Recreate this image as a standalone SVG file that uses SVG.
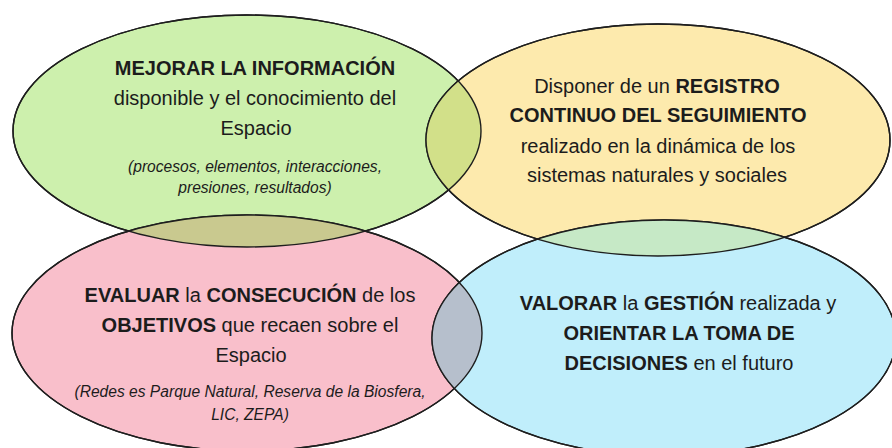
<svg xmlns="http://www.w3.org/2000/svg" width="892" height="448" viewBox="0 0 892 448">
<style>
.el{stroke:#1e1e1e;stroke-width:1.4}
.ln{fill:none;stroke:#1e1e1e;stroke-width:1.4}
.t{font-family:"Liberation Sans",Arial,sans-serif;font-size:20px;fill:#1c1c1c;text-anchor:middle}
.b{font-weight:bold}
.i{font-style:italic;font-size:15.6px}
</style>
<defs>
<clipPath id="cG"><ellipse cx="247" cy="131" rx="234" ry="116"/></clipPath>
<clipPath id="cB"><ellipse cx="664" cy="338" rx="232" ry="118"/></clipPath>
</defs>
<rect width="892" height="448" fill="#ffffff"/>
<g id="node-mejorar">
<ellipse class="el" cx="247" cy="131" rx="234" ry="116" fill="#cdf0ad"/>
<text class="t b" x="255" y="75">MEJORAR LA INFORMACIÓN</text>
<text class="t" x="255" y="105">disponible y el conocimiento del</text>
<text class="t" x="256" y="135">Espacio</text>
<text class="t i" x="255" y="172">(procesos, elementos, interacciones,</text>
<text class="t i" x="255" y="193">presiones, resultados)</text>
</g>
<g id="node-registro">
<ellipse class="el" cx="658" cy="140" rx="232" ry="116" fill="#fdeaad"/>
<text class="t" x="657" y="93">Disponer de un <tspan class="b">REGISTRO</tspan></text>
<text class="t b" x="658" y="122">CONTINUO DEL SEGUIMIENTO</text>
<text class="t" x="658" y="153">realizado en la dinámica de los</text>
<text class="t" x="657" y="182">sistemas naturales y sociales</text>
</g>
<g id="node-evaluar">
<ellipse class="el" cx="247" cy="333" rx="235" ry="118" fill="#f9bfcb"/>
<text class="t" x="250" y="302"><tspan class="b">EVALUAR</tspan> la <tspan class="b">CONSECUCIÓN</tspan> de los</text>
<text class="t" x="250" y="332"><tspan class="b">OBJETIVOS</tspan> que recaen sobre el</text>
<text class="t" x="251" y="362">Espacio</text>
<text class="t i" x="250" y="397">(Redes es Parque Natural, Reserva de la Biosfera,</text>
<text class="t i" x="250" y="420">LIC, ZEPA)</text>
</g>
<g id="node-valorar">
<ellipse class="el" cx="664" cy="338" rx="232" ry="118" fill="#c0eefb"/>
<text class="t" x="678" y="310"><tspan class="b">VALORAR</tspan> la <tspan class="b">GESTIÓN</tspan> realizada y</text>
<text class="t b" x="679" y="340">ORIENTAR LA TOMA DE</text>
<text class="t" x="679" y="370"><tspan class="b">DECISIONES</tspan> en el futuro</text>
</g>
<g id="overlaps">
<ellipse cx="658" cy="140" rx="232" ry="116" fill="#d2e089" clip-path="url(#cG)"/>
<ellipse cx="247" cy="333" rx="235" ry="118" fill="#c9c98f" clip-path="url(#cG)"/>
<ellipse cx="658" cy="140" rx="232" ry="116" fill="#c6e9c6" clip-path="url(#cB)"/>
<ellipse cx="247" cy="333" rx="235" ry="118" fill="#b6bfcc" clip-path="url(#cB)"/>
<ellipse class="ln" cx="247" cy="131" rx="234" ry="116"/>
<ellipse class="ln" cx="658" cy="140" rx="232" ry="116"/>
<ellipse class="ln" cx="247" cy="333" rx="235" ry="118"/>
<ellipse class="ln" cx="664" cy="338" rx="232" ry="118"/>
</g>
</svg>
